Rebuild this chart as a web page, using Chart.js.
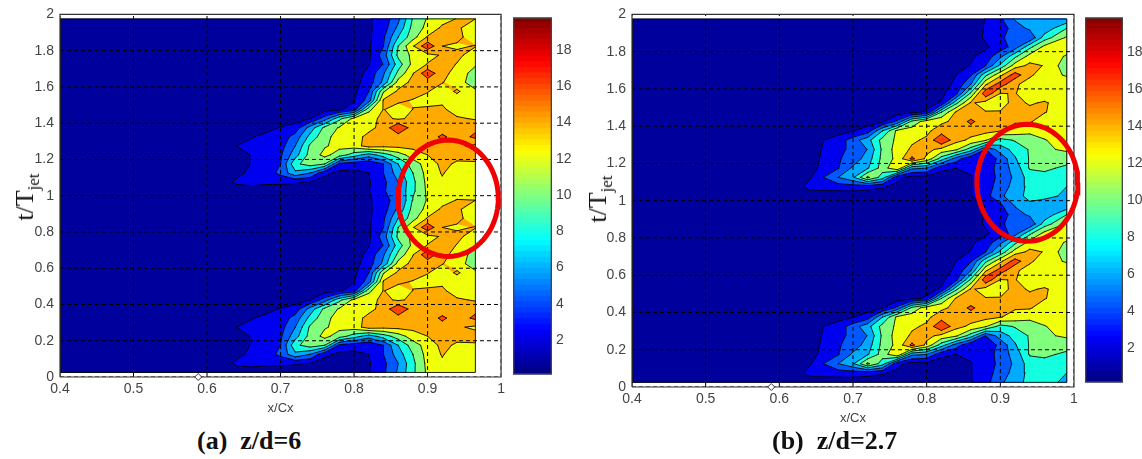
<!DOCTYPE html>
<html>
<head>
<meta charset="utf-8">
<script src="https://cdn.jsdelivr.net/npm/chart.js@4"></script>
<style>
    html, body { margin: 0; padding: 0; background: #fff; overflow: hidden; }
    canvas { position: absolute; }
    .ylabel { position: absolute; font: 26px/30px "Liberation Serif"; color: #111; transform: translate(-50%, -50%) rotate(-90deg); white-space: nowrap; }
    .ylabel sub { font-size: 17px; line-height: 0; }
    .caption { position: absolute; font: bold 26px/30px "Liberation Serif"; color: #111; white-space: pre; }
</style>
</head>
<body>
<canvas id="chartA"></canvas>
<canvas id="chartB"></canvas>
<canvas id="barA"></canvas>
<canvas id="barB"></canvas>
<div class="ylabel" style="left:25px;top:197px">t/T<sub>jet</sub></div>
<div class="ylabel" style="left:598px;top:199px">t/T<sub>jet</sub></div>
<div class="caption" style="left:197px;top:426px">(a)  z/d=6</div>
<div class="caption" style="left:772px;top:426px">(b)  z/d=2.7</div>
<script>
// Axis ticks
const xTicks = [0.4, 0.5, 0.6, 0.7, 0.8, 0.9, 1];
const yTicks = [0, 0.2, 0.4, 0.6, 0.8, 1, 1.2, 1.4, 1.6, 1.8, 2];
const barTicks = [2, 4, 6, 8, 10, 12, 14, 16, 18];

// Contour levels and the colour of the band above each level
const levels = [0, 2, 4, 6, 8, 10, 12, 14, 16];
const levelColors = ['#00009c', '#0000f0', '#0058ff', '#00aaff', '#14ffe0', '#82ff7d', '#f0ff0a', '#ffaa00', '#ff4600'];

// Time rows of one jet period, the second period repeats the first
const tPeriod = [0.025, 0.075, 0.125, 0.175, 0.225, 0.275, 0.325, 0.375, 0.425, 0.475, 0.525, 0.575, 0.625, 0.675, 0.725, 0.775, 0.825, 0.875, 0.925, 0.975];

// Panel (a) z/d=6
const xA = [0.4, 0.62, 0.64, 0.66, 0.68, 0.7, 0.72, 0.74, 0.76, 0.78, 0.8, 0.82, 0.84, 0.86, 0.88, 0.9, 0.92, 0.94, 0.965];
const zA = [
    [.5,.6,.8,.9,.9,.9,.9,.9,.9,.9,1,1.9,3.6,6.3,9.6,12.4,13,13,13],
    [.5,1,2.4,2.7,2.4,2.4,2.2,1.9,1.2,1,1,1.8,3.5,6,9.5,12.6,13.7,13,13],
    [.5,.8,1.4,2.5,3,4.5,7.5,6,2.5,1.5,1.5,2,4,7,10,12.8,14.15,13,13],
    [.5,.8,1,2.1,3,4,9.5,11,10,3.5,2.8,2.4,4,8,11,12.9,14.5,13.7,13.7],
    [.5,.7,1,2.1,3,3.7,7.2,10.7,12.6,11,9,7,9,11,13,14,14.6,14.6,14.8],
    [.5,1,2,2.4,2.8,3.2,6,10.3,11.8,12.6,13,15,14.6,14.6,14.6,14.8,15,14.3,13.6],
    [.5,.7,1,1.9,2.4,2.8,4.8,8.6,11.4,12.8,13.3,14.5,15,15,14.7,14.7,16.5,14.8,16.5],
    [.5,.6,.8,1,1.5,2.1,2.8,6.8,10.5,12.2,13.2,13.5,14.6,18,15,15.6,14.6,14.6,15.4],
    [.5,.5,.5,.6,.7,.9,1.2,2,5,9.5,12.6,13.3,14.5,13.7,14.4,14.6,14,14.3,13.8],
    [.5,.5,.5,.5,.5,.6,.7,.9,1.2,1.7,3,11.5,14.1,12.8,14.05,14.3,14.4,13,13],
    [.5,.5,.5,.5,.5,.5,.5,.6,.7,.9,1.9,5,14.3,14.5,13.8,13.4,13.6,13,12.8],
    [.5,.5,.5,.5,.5,.5,.5,.5,.6,.9,1.5,4,11.8,14.4,15.2,14.1,13,14.3,12.4],
    [.5,.5,.5,.5,.5,.5,.5,.5,.6,.8,1.3,3,6.5,12.8,14.6,14.8,14.1,13,10.8],
    [.5,.5,.5,.5,.5,.5,.5,.5,.5,.7,1,2.6,5.8,10.5,13.9,17.5,14.5,13.4,11],
    [.5,.5,.5,.5,.5,.5,.5,.5,.5,.7,.9,1.9,4.1,9,12.6,14.1,14.9,13.9,12.3],
    [.5,.5,.5,.5,.5,.5,.5,.5,.5,.6,.8,1.6,5,10.5,12.5,13.4,14.2,14.5,13],
    [.5,.5,.5,.5,.5,.5,.5,.5,.5,.6,.8,1.7,4,10,13.8,17.5,14,13.7,14.1],
    [.5,.5,.5,.5,.5,.5,.5,.5,.5,.6,.7,1.6,3.7,8,11.2,14.2,14.7,14.5,13],
    [.5,.5,.5,.5,.5,.5,.5,.5,.5,.6,.7,1.7,3,6.5,10.7,12.6,14.4,14.3,13],
    [.5,.5,.5,.5,.5,.5,.5,.5,.5,.6,.7,1.8,2.8,5.5,10.2,12.2,13.2,14.1,14]
];

// Panel (b) z/d=2.7
const xB = [0.4, 0.62, 0.64, 0.66, 0.68, 0.7, 0.72, 0.74, 0.76, 0.78, 0.8, 0.82, 0.84, 0.86, 0.88, 0.9, 0.92, 0.94, 0.96, 0.99];
const zB = [
    [.5,.6,.6,.7,.7,.8,.8,.8,.8,.8,.8,.9,1,1.9,3.3,5.5,7.5,8.4,8.6,7.6],
    [.5,.8,2.7,2.9,3,3,2.7,2.2,1.5,1.1,1,1,1,1.9,3.4,4.6,7,8.5,8.8,8],
    [.5,.6,1.6,4,6,7.7,12.4,9,2.5,1.3,1.2,1.1,1.1,1.9,3.4,4.3,6.5,8.9,9.5,9],
    [.5,.6,1,2.7,3.9,6.4,7.8,10.9,13.9,6.5,6,2.5,2,2.3,2.7,5,6.7,10.2,10.3,9.7],
    [.5,.5,.9,2.4,3.8,4.8,7,10.6,12.6,16.5,13.5,9,5,2.1,2.7,4.5,7.8,10.2,10.6,10.6],
    [.5,.5,.8,2.2,3.6,4.4,6.1,10.4,12.9,14.3,14.6,13.4,12.3,9,4,7,8.7,10.2,11.6,12.4],
    [.5,.5,.7,2,2.9,5,7.3,10.7,12.4,13.7,14.3,18,14.6,13.6,12.2,9.2,10.2,10.8,11.9,12.9],
    [.5,.5,.6,.8,1.3,1.9,3,8,12.5,13,13.6,15,15.6,14.8,14.6,14.1,13.2,12.6,12.8,12.9],
    [.5,.5,.5,.6,.7,.9,1.1,1.8,4.5,10.5,13.1,13.6,14.5,16.5,14.6,14.6,14.2,14.2,13,13],
    [.5,.5,.5,.5,.6,.7,.8,.9,1.1,1.5,2.3,10,14.3,14.3,14.1,14.1,14.5,14.5,14.1,13],
    [.5,.5,.5,.5,.5,.5,.6,.7,.9,1.1,1.4,2.2,9.5,14.3,13.2,13.4,14.5,13.8,14.2,13],
    [.5,.5,.5,.5,.5,.5,.5,.6,.7,.9,1.2,1.5,3.5,10.5,17.5,13.9,14.1,13,13,13],
    [.5,.5,.5,.5,.5,.5,.5,.5,.6,.8,1,1.2,2.4,6,13.7,17,14.4,13,13,13],
    [.5,.5,.5,.5,.5,.5,.5,.5,.6,.7,.9,1,2,3.8,9.5,13.5,17,14.4,12.8,11.8],
    [.5,.5,.5,.5,.5,.5,.5,.5,.6,.7,.8,.9,1.3,2.1,4,8.5,13,14.5,13.9,10.8],
    [.5,.5,.5,.5,.5,.5,.5,.5,.5,.6,.7,.8,1,1.7,2.8,5.5,9.5,12.8,13.2,11.8],
    [.5,.5,.5,.5,.5,.5,.5,.5,.5,.6,.7,.8,.8,.9,1.7,2.9,5,9.5,12.6,13],
    [.5,.5,.5,.5,.5,.5,.5,.5,.5,.6,.7,.8,.9,1,2.3,3.8,4.5,4.2,9,12.3],
    [.5,.5,.5,.5,.5,.5,.5,.5,.5,.6,.7,.8,.8,.9,2.2,2.9,5,6.4,6.6,10],
    [.5,.5,.5,.5,.5,.5,.5,.5,.5,.6,.7,.8,.8,.9,2.1,3.6,6.2,7.7,6.8,6.5]
];

// Red ellipses [x centre, t centre, x radius, t radius] and the small marker on the axis
const ellipseA = [0.928, 0.986, 0.0682, 0.321];
const ellipseB = [0.9367, 1.096, 0.0686, 0.314];
const markerX = [0.588, 0.589];

// Range of the two colour bars
const barRangeA = [0.1, 19.8];
const barRangeB = [0.15, 19.9];

const GAP = {x: NaN, y: NaN};
const TICK_COLOR = '#444';
const TICK_FONT = {family: 'Liberation Sans', size: 14};

// Point where the level crosses the edge between two grid corners
function crossing(p, q, level) {
    const k = (level - p.z) / (q.z - p.z);
    return {x: p.x + (q.x - p.x) * k, y: p.y + (q.y - p.y) * k};
}

// Marching squares: cell polygons with z >= level, and the contour segments
function traceLevel(xs, ts, rows, level) {
    const polys = [];
    const lines = [];
    for (let j = 0; j < ts.length - 1; j++) {
        for (let i = 0; i < xs.length - 1; i++) {
            const corners = [
                {x: xs[i], y: ts[j], z: rows[j][i]},
                {x: xs[i + 1], y: ts[j], z: rows[j][i + 1]},
                {x: xs[i + 1], y: ts[j + 1], z: rows[j + 1][i + 1]},
                {x: xs[i], y: ts[j + 1], z: rows[j + 1][i]}
            ];
            if (corners.every(c => c.z < level)) continue;
            const cuts = [];
            corners.forEach((c, n) => {
                const next = corners[(n + 1) % 4];
                if (c.z >= level) polys.push({x: c.x, y: c.y});
                if ((c.z >= level) !== (next.z >= level)) {
                    const p = crossing(c, next, level);
                    polys.push(p);
                    cuts.push(p);
                }
            });
            polys.push(GAP);
            for (let n = 0; n + 1 < cuts.length; n += 2) {
                lines.push(cuts[n], cuts[n + 1], GAP);
            }
        }
    }
    return {polys, lines};
}

function ellipsePoints(e) {
    const pts = [];
    for (let a = 0; a <= 360; a += 5) {
        const r = a * Math.PI / 180;
        pts.push({x: e[0] + e[2] * Math.cos(r), y: e[1] + e[3] * Math.sin(r)});
    }
    return pts;
}

function lineSet(data, color, width, extra) {
    return Object.assign({
        data: data,
        showLine: true,
        borderColor: color,
        borderWidth: width,
        pointRadius: 0,
        fill: false,
        tension: 0
    }, extra);
}

function createContourChart(canvasId, box, xs, rowsPeriod, ellipse, markX) {
    const canvas = document.getElementById(canvasId);
    canvas.style.left = box.left + 'px';
    canvas.style.top = '0px';
    canvas.style.width = box.width + 'px';
    canvas.style.height = box.height + 'px';
    canvas.width = box.width;
    canvas.height = box.height;

    const ts = tPeriod.concat(tPeriod.map(t => t + 1));
    const rows = rowsPeriod.concat(rowsPeriod);

    // Chart.js paints the first dataset last, so overlays go first
    const datasets = [];
    datasets.push(lineSet(ellipsePoints(ellipse), '#f00000', 5, {clip: false}));
    datasets.push({
        data: [{x: markX, y: 0}],
        pointStyle: 'rectRot',
        pointRadius: 3.5,
        backgroundColor: '#fff',
        borderColor: '#333',
        borderWidth: 1,
        clip: false
    });

    // Box round the axes
    const frame = [{x: 0.4, y: 0}, {x: 1, y: 0}, {x: 1, y: 2}, {x: 0.4, y: 2}, {x: 0.4, y: 0}];
    datasets.push(lineSet(frame, '#333', 1.2, {clip: false}));

    // Dashed grid lines on top of the contours
    const grid = [];
    xTicks.forEach(x => grid.push({x: x, y: 0}, {x: x, y: 2}, GAP));
    yTicks.forEach(y => grid.push({x: 0.4, y: y}, {x: 1, y: y}, GAP));
    datasets.push(lineSet(grid, '#000', 1, {borderDash: [4, 3]}));

    // Contour lines, with the outline of the measured area
    const xEnd = xs[xs.length - 1];
    const tEnd = ts[ts.length - 1];
    const edge = [{x: xs[0], y: ts[0]}, {x: xEnd, y: ts[0]}, {x: xEnd, y: tEnd}, {x: xs[0], y: tEnd}, {x: xs[0], y: ts[0]}, GAP];
    const traced = levels.map(level => traceLevel(xs, ts, rows, level));
    let contour = edge;
    traced.forEach((t, i) => {
        if (i > 0) contour = contour.concat(t.lines);
    });
    datasets.push(lineSet(contour, 'rgba(0,0,0,0.85)', 1, {borderCapStyle: 'round'}));

    // Filled bands, highest level drawn last, the lowest band is the whole area
    for (let i = levels.length - 1; i >= 0; i--) {
        datasets.push(lineSet(i === 0 ? edge.slice(0, 4) : traced[i].polys, levelColors[i], 0.8, {
            fill: 'shape',
            backgroundColor: levelColors[i]
        }));
    }

    new Chart(canvas, {
        type: 'scatter',
        data: {datasets: datasets},
        options: {
            responsive: false,
            animation: false,
            events: [],
            layout: {padding: {top: box.top, right: box.width - box.plotRight, left: 0, bottom: 0}},
            plugins: {legend: {display: false}, tooltip: {enabled: false}},
            scales: {
                x: {
                    type: 'linear',
                    min: 0.4,
                    max: 1,
                    afterFit: scale => { scale.height = box.height - box.plotBottom; },
                    afterBuildTicks: scale => { scale.ticks = xTicks.map(v => ({value: v})); },
                    grid: {display: false, drawTicks: false},
                    border: {display: false},
                    ticks: {
                        color: TICK_COLOR,
                        font: TICK_FONT,
                        padding: 4,
                        maxRotation: 0,
                        autoSkip: false,
                        callback: v => String(v)
                    },
                    title: {
                        display: true,
                        text: 'x/Cx',
                        color: '#444',
                        font: {family: 'Liberation Sans', size: 13},
                        padding: {top: 0, bottom: 4}
                    }
                },
                y: {
                    type: 'linear',
                    min: 0,
                    max: 2,
                    afterFit: scale => { scale.width = box.plotLeft; },
                    afterBuildTicks: scale => { scale.ticks = yTicks.map(v => ({value: v})); },
                    grid: {display: false, drawTicks: false},
                    border: {display: false},
                    ticks: {
                        color: TICK_COLOR,
                        font: TICK_FONT,
                        padding: 6,
                        autoSkip: false,
                        callback: v => String(v)
                    }
                }
            }
        }
    });
}

// Same rainbow as the figure's colour scale
function jetColor(v) {
    const ch = d => Math.round(255 * Math.max(0, Math.min(1, 1.5 - Math.abs(4 * v - d))));
    return 'rgb(' + ch(3) + ',' + ch(2) + ',' + ch(1) + ')';
}

function createColorBar(canvasId, box, range) {
    const canvas = document.getElementById(canvasId);
    canvas.style.left = box.left + 'px';
    canvas.style.top = '0px';
    canvas.style.width = box.width + 'px';
    canvas.style.height = box.height + 'px';
    canvas.width = box.width;
    canvas.height = box.height;

    const steps = 64;
    const size = (range[1] - range[0]) / steps;
    const datasets = [{
        data: [range],
        backgroundColor: 'rgba(0,0,0,0)',
        borderColor: '#444',
        borderWidth: 1,
        borderSkipped: false,
        grouped: false,
        barPercentage: 1,
        categoryPercentage: 1
    }];
    for (let i = 0; i < steps; i++) {
        datasets.push({
            data: [[range[0] + i * size, range[0] + (i + 1) * size + 0.02]],
            backgroundColor: jetColor((i + 0.5) / steps),
            borderWidth: 0,
            grouped: false,
            barPercentage: 1,
            categoryPercentage: 1
        });
    }

    new Chart(canvas, {
        type: 'bar',
        data: {labels: ['z'], datasets: datasets},
        options: {
            responsive: false,
            animation: false,
            events: [],
            layout: {padding: {top: box.top, bottom: box.height - box.plotBottom, left: 1, right: 0}},
            plugins: {legend: {display: false}, tooltip: {enabled: false}},
            scales: {
                x: {display: false},
                y: {
                    position: 'right',
                    min: range[0],
                    max: range[1],
                    afterFit: scale => { scale.width = box.width - 1 - box.barWidth; },
                    afterBuildTicks: scale => { scale.ticks = barTicks.map(v => ({value: v})); },
                    grid: {drawOnChartArea: false, color: '#333', tickLength: -5},
                    border: {display: false},
                    ticks: {color: TICK_COLOR, font: TICK_FONT, padding: 9, autoSkip: false}
                }
            }
        }
    });
}

createContourChart('chartA', {left: 0, width: 509, height: 420, top: 13, plotLeft: 60, plotRight: 503.5, plotBottom: 377}, xA, zA, ellipseA, markerX[0]);
createContourChart('chartB', {left: 572, width: 510, height: 430, top: 13, plotLeft: 60, plotRight: 502, plotBottom: 387}, xB, zB, ellipseB, markerX[1]);
createColorBar('barA', {left: 512, width: 65, height: 392, top: 13, plotBottom: 378, barWidth: 39}, barRangeA);
createColorBar('barB', {left: 1084, width: 58, height: 400, top: 13, plotBottom: 387, barWidth: 38}, barRangeB);
</script>
</body>
</html>
